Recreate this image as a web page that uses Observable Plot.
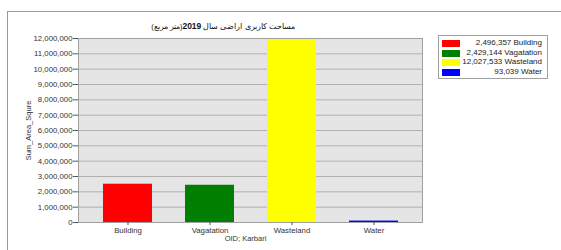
<!DOCTYPE html>
<html><head><meta charset="utf-8">
<script src="https://cdn.jsdelivr.net/npm/d3@7"></script>
<script src="https://cdn.jsdelivr.net/npm/@observablehq/plot@0.6"></script>
<style>
body{margin:0;background:#fff;font-family:"Liberation Sans",Arial,sans-serif;}
#wrap{position:relative;width:561px;height:250px;overflow:hidden;}
#border{position:absolute;left:7px;top:11px;width:560px;height:250px;border-left:1px solid #9a9a9a;border-top:1px solid #9a9a9a;}
#title{position:absolute;left:78px;width:290px;top:21px;text-align:center;font-size:7.5px;color:#111;}
#legend{position:absolute;left:438px;top:35px;width:108px;height:42px;border:1px solid #a0a0a0;background:#fff;font-size:8px;color:#222;}
.row{position:absolute;left:3px;width:102px;height:9px;}
.sw{position:absolute;left:0;top:0;width:18px;height:7px;}
.lt{position:absolute;right:2px;top:-2px;white-space:nowrap;}
#chart{position:absolute;left:0;top:0;}
</style></head>
<body><div id="wrap"><div id="border"></div><div id="chart"></div>
<div id="title" dir="rtl">مساحت کاربری اراضی سال <b style="font-size:8.5px">2019</b>(متر مربع)</div>
<div id="legend"></div></div>
<script>
const categories = ["Building", "Vagatation", "Wasteland", "Water"];
const values = [2496357, 2429144, 12027533, 93039];
const colors = ["#ff0000", "#007f00", "#ffff00", "#0000ff"];
const yTicks = d3.range(0, 12000001, 1000000);

const data = categories.map((c, i) => ({cat: c, value: values[i], color: colors[i]}));

const chart = Plot.plot({
  width: 561, height: 250,
  marginLeft: 78, marginRight: 139, marginTop: 38, marginBottom: 28,
  style: {fontFamily: "Liberation Sans, Arial, sans-serif", fontSize: "7.8px", color: "#333", background: "transparent"},
  x: {domain: categories, paddingInner: 0.405, paddingOuter: 0.29, label: null},
  y: {domain: [0, 12000000], label: null},
  marks: [
    Plot.frame({fill: "#e5e5e5", stroke: null}),
    Plot.gridY(yTicks, {stroke: "#b0b0b0", strokeOpacity: 1, strokeWidth: 1}),
    Plot.barY(data, {x: "cat", y: "value", fill: "color", clip: true}),
    Plot.frame({stroke: "#a0a0a0"}),
    Plot.axisY(yTicks, {tickFormat: d3.format(","), tickSize: 5, tickPadding: 1, stroke: "#555", label: null}),
    Plot.axisX({tickSize: 3, tickPadding: 2, stroke: "#555", label: null}),
    Plot.text(["Sum_Area_Squre"], {frameAnchor: "left", textAnchor: "middle", dx: -50, dy: 0, rotate: -90, fontSize: 7.5, fill: "#333"}),
    Plot.text(["OID; Karbari"], {frameAnchor: "bottom", dy: 18, dx: -5, fontSize: 7.5, fill: "#333"})
  ]
});
document.getElementById("chart").appendChild(chart);

const leg = document.getElementById("legend");
data.forEach((d, i) => {
  const r = document.createElement("div");
  r.className = "row"; r.style.top = (4 + i * 9.5) + "px";
  r.innerHTML = `<div class="sw" style="background:${d.color}"></div><div class="lt">${d3.format(",")(d.value)} ${d.cat}</div>`;
  leg.appendChild(r);
});
</script></body></html>
